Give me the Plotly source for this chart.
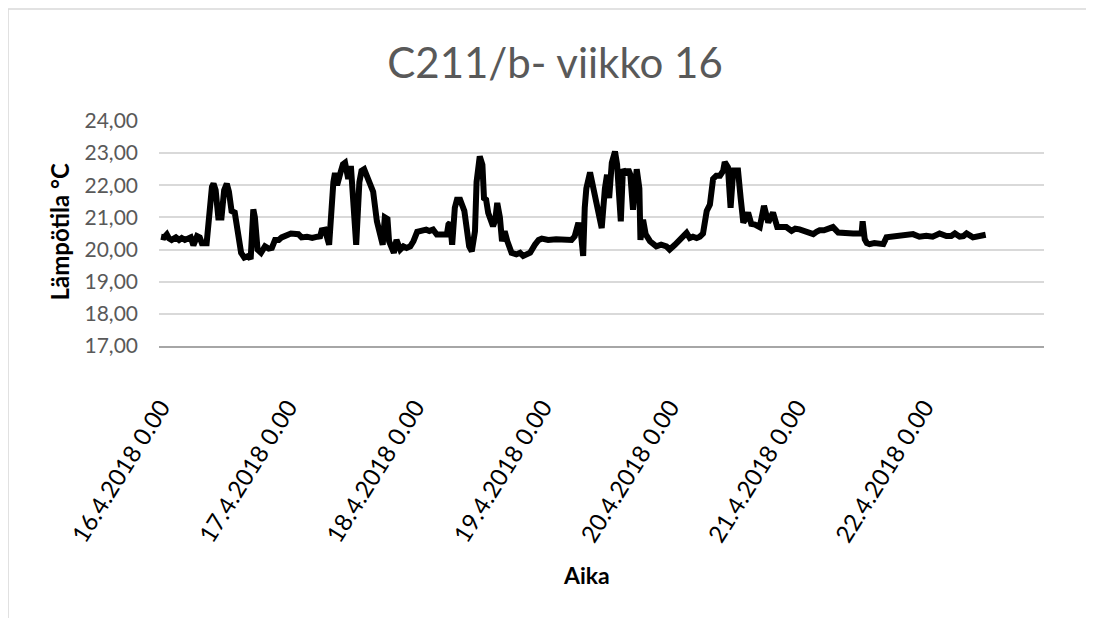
import pandas as pd
import plotly.graph_objects as go

hours = [
    0, 0.6, 1.1, 1.5, 2.0, 2.8, 3.4, 3.9, 4.5, 5.15, 5.6, 6.1, 6.5, 6.8, 7.3, 7.7, 8.6,
    8.9, 9.2, 9.6, 9.9, 10.3, 10.8, 11.4, 11.9, 12.4, 12.8, 13.3, 13.9, 14.6, 15.1,
    15.7, 16.5, 16.9, 17.4, 17.7, 18.2, 18.85, 19.6, 20.3, 20.9, 21.5, 22.2, 22.75,
    23.7, 24.5, 25.9, 26.5, 27.5, 28.5, 29.5, 30.0, 30.3, 30.9, 31.7, 32.2, 32.5,
    32.8, 33.2, 33.9, 34.3, 34.7, 35.3, 35.8, 36.1, 36.8, 37.4, 37.8, 38.3, 38.8,
    39.4, 40.0, 40.7, 41.3, 41.8, 42.2, 42.7, 43.0, 43.5, 43.9, 44.4, 45.1, 45.7,
    46.3, 47.0, 47.6, 48.3, 49.0, 50.0, 50.6, 51.3, 52.0, 53.0, 53.9, 54.2, 54.5,
    54.9, 55.4, 55.8, 56.4, 57.2, 57.6, 58.1, 58.6, 59.2, 59.5, 60.1, 60.6, 60.9,
    61.3, 61.7, 62.6, 63.0, 63.4, 63.9, 64.3, 64.8, 65.3, 66.1, 67.0, 67.7, 68.3,
    69.0, 69.6, 70.5, 71.2, 71.8, 73.0, 74.5, 76.0, 77.4, 78.0, 78.7, 79.2, 79.6,
    79.9, 80.2, 80.9, 81.5, 82.1, 83.1, 83.7, 84.1, 84.5, 85.0, 85.6, 86.0, 86.7,
    87.1, 87.7, 88.1, 88.5, 89.0, 89.7, 90.2, 90.4, 90.9, 91.4, 92.2, 93.4, 94.3,
    95.3, 95.9, 96.9, 97.8, 98.5, 99.1, 99.7, 100.3, 101.0, 101.6, 102.2, 102.9,
    103.5, 104.1, 104.7, 105.4, 106.0, 106.3, 106.9, 107.4, 107.9, 108.8, 109.3,
    109.8, 110.2, 110.7, 111.3, 112.0, 112.9, 113.7, 114.5, 115.4, 116.2, 117.0,
    117.9, 118.9, 119.6, 120.4, 121.0, 121.7, 122.4, 123.0, 123.6, 124.2, 125.0,
    125.8, 126.7, 127.7, 129.0, 130.5, 131.8, 132.1, 132.3, 132.7, 133.1, 133.6,
    134.5, 135.4, 136.2, 136.8, 138.0, 139.3, 140.5, 141.8, 143.0, 144.3, 145.5,
    146.8, 148.1, 149.0, 149.7, 150.6, 151.3, 151.9, 153.1, 154.0, 155.0, 155.5,
]
temps = [
    20.40, 20.38, 20.47, 20.35, 20.30, 20.38, 20.30, 20.36, 20.30, 20.33, 20.38, 20.13,
    20.35, 20.42, 20.38, 20.20, 20.20, 20.80, 21.60, 21.95, 22.05, 21.85, 21.00, 21.00,
    21.85, 22.05, 21.80, 21.20, 21.15, 20.30, 19.90, 19.75, 19.80, 19.70, 21.25, 21.00,
    20.00, 19.90, 20.10, 20.03, 20.05, 20.30, 20.30, 20.38, 20.45, 20.50, 20.48, 20.38,
    20.40, 20.36, 20.40, 20.41, 20.60, 20.62, 20.15, 21.80, 22.10, 22.38, 22.00, 22.43,
    22.65, 22.70, 22.20, 22.60, 21.60, 20.15, 22.10, 22.45, 22.50, 22.30, 22.07, 21.80,
    20.88, 20.47, 20.15, 21.00, 20.95, 20.26, 20.05, 19.90, 20.30, 20.00, 20.10, 20.05,
    20.10, 20.26, 20.55, 20.60, 20.62, 20.58, 20.62, 20.47, 20.47, 20.47, 20.78, 20.83,
    20.15, 21.30, 21.55, 21.55, 21.20, 20.57, 20.10, 19.95, 20.57, 22.10, 22.90, 22.64,
    21.60, 21.55, 21.14, 20.73, 20.90, 21.45, 21.00, 20.26, 20.57, 20.26, 19.90, 19.85,
    19.90, 19.80, 19.88, 19.90, 20.15, 20.30, 20.34, 20.30, 20.32, 20.30, 20.30, 20.41,
    20.83, 20.47, 19.80, 21.30, 21.90, 22.40, 21.90, 21.60, 20.67, 21.90, 22.33, 21.60,
    22.70, 23.05, 22.64, 20.88, 22.50, 22.33, 22.50, 22.33, 21.24, 22.50, 21.90, 20.30,
    20.93, 20.47, 20.26, 20.10, 20.15, 20.10, 20.00, 20.15, 20.30, 20.40, 20.52, 20.36,
    20.40, 20.36, 20.40, 20.50, 21.20, 21.40, 22.20, 22.30, 22.30, 22.45, 22.72, 22.56,
    21.30, 22.46, 22.46, 21.60, 20.84, 20.95, 21.15, 20.80, 20.78, 20.70, 21.36, 20.84,
    21.15, 20.70, 20.72, 20.70, 20.58, 20.65, 20.63, 20.60, 20.58, 20.55, 20.48, 20.55,
    20.60, 20.60, 20.63, 20.70, 20.53, 20.50, 20.50, 20.50, 20.50, 20.88, 20.32, 20.20,
    20.17, 20.20, 20.17, 20.17, 20.38, 20.40, 20.40, 20.42, 20.48, 20.40, 20.43, 20.40,
    20.50, 20.42, 20.42, 20.50, 20.40, 20.42, 20.50, 20.38, 20.42, 20.46, 20.46,
]

start = pd.Timestamp("2018-04-16 00:00")
tick_dates = pd.date_range(start, periods=7, freq="D")
tick_labels = [f"{d.day}.{d.month}.{d.year} 0.00" for d in tick_dates]
y_ticks = [17, 18, 19, 20, 21, 22, 23, 24]

times = start + pd.to_timedelta(hours, unit="h")

font = "Lato, Carlito, Calibri, sans-serif"

fig = go.Figure()
fig.add_trace(go.Scatter(
    x=times, y=temps, mode="lines",
    line=dict(color="black", width=6),
    showlegend=False, hoverinfo="skip",
))

# the page body has an 8px margin, so the margins are shifted by that amount
fig.update_layout(
    width=1094, height=618, autosize=False,
    margin=dict(l=151, r=58, t=113, b=280),
    paper_bgcolor="white", plot_bgcolor="white",
    separators=", ",
    font=dict(family=font, color="#595959"),
    title=dict(
        text="C211/b- viikko 16", font=dict(size=42, color="#595959", family=font),
        x=0.4475, xref="paper", xanchor="center",
        y=1 - 55 / 618, yref="container", yanchor="middle",
    ),
    shapes=[dict(
        type="rect", xref="paper", yref="paper",
        x0=-0.1706, x1=1.2, y0=-1.4, y1=1.4978,
        line=dict(color="#d9d9d9", width=1.5), fillcolor="rgba(0,0,0,0)",
        layer="below",
    )],
    annotations=[
        dict(text="<b>Lämpötila °C</b>", textangle=-90, xref="paper", yref="paper",
             x=-0.130, y=0.5067, showarrow=False,
             font=dict(size=24, color="black", family=font)),
        dict(text="<b>Aika</b>", xref="paper", yref="paper",
             x=0.4836, y=-1.089, showarrow=False,
             font=dict(size=23, color="black", family=font)),
    ],
)

fig.update_xaxes(
    type="date",
    range=[start - pd.Timedelta(minutes=23), start + pd.Timedelta(hours=166.5)],
    tickvals=tick_dates, ticktext=tick_labels, tickangle=-58,
    tickfont=dict(size=24, color="black", family=font),
    showgrid=False, zeroline=False,
    showline=True, linecolor="#a6a6a6", linewidth=1.5,
    ticks="", ticklabelstandoff=36,
)
fig.update_yaxes(
    range=[17, 24], tickvals=y_ticks, tickformat=".2f",
    tickfont=dict(size=21, color="#595959", family=font),
    showgrid=True, gridcolor="#d9d9d9", gridwidth=1.5,
    zeroline=False, showline=False, ticks="", ticklabelstandoff=20,
)

fig.write_html("out.html")
